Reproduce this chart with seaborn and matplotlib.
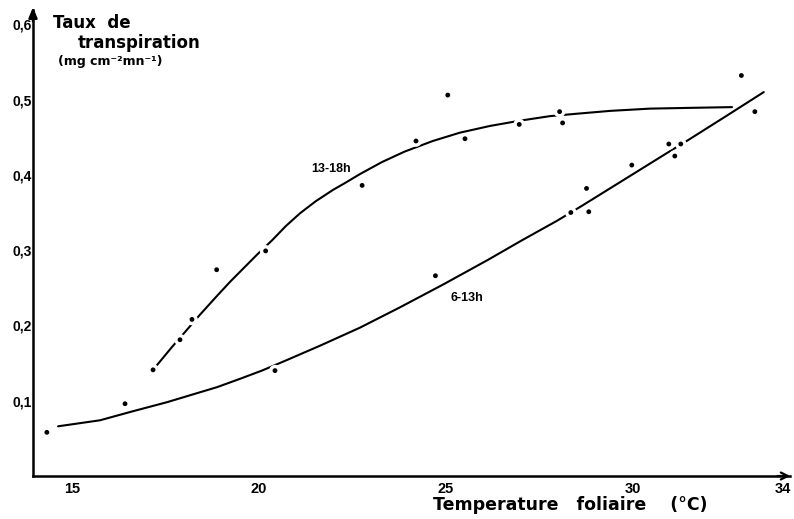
import matplotlib
matplotlib.use("Agg")
import matplotlib.pyplot as plt
import pandas as pd
import seaborn as sns
from matplotlib.ticker import FixedLocator, MultipleLocator

# Measured transpiration rates (mg cm-2 mn-1) vs leaf temperature (°C)
temp_1318 = [17.17, 17.89, 18.21, 18.87, 20.18, 22.76, 24.20, 25.05, 25.51, 26.96, 28.04, 28.12, 32.90]
rate_1318 = [0.141, 0.181, 0.208, 0.274, 0.299, 0.386, 0.445, 0.506, 0.448, 0.467, 0.484, 0.469, 0.532]
temp_613 = [14.33, 16.42, 20.43, 24.72, 28.34, 28.76, 28.82, 29.97, 30.96, 31.12, 31.28, 33.26]
rate_613 = [0.058, 0.096, 0.140, 0.266, 0.350, 0.382, 0.351, 0.413, 0.441, 0.425, 0.441, 0.484]

# Hand-drawn trend curves
curve_1318_t = [17.27, 17.67, 18.02, 18.42, 18.82, 19.23, 19.63, 19.95, 20.35, 20.72,
                21.10, 21.52, 21.98, 22.33, 22.70, 23.29, 23.90, 24.65, 25.37, 26.18,
                26.98, 27.78, 28.45, 29.39, 30.46, 31.52, 32.65]
curve_1318_r = [0.147, 0.171, 0.191, 0.214, 0.236, 0.258, 0.278, 0.294, 0.313, 0.332,
                0.349, 0.365, 0.380, 0.390, 0.401, 0.417, 0.431, 0.445, 0.456, 0.465,
                0.472, 0.478, 0.481, 0.485, 0.488, 0.489, 0.490]
curve_613_t = [14.63, 15.19, 15.75, 16.63, 17.54, 18.21, 18.88, 19.49, 20.08, 20.70,
               21.63, 22.70, 23.77, 24.95, 26.12, 27.03, 27.97, 28.64, 29.84, 31.04,
               31.47, 32.49, 33.50]
curve_613_r = [0.066, 0.070, 0.074, 0.086, 0.098, 0.108, 0.118, 0.129, 0.140, 0.153,
               0.173, 0.197, 0.224, 0.255, 0.287, 0.313, 0.339, 0.359, 0.396, 0.433,
               0.446, 0.478, 0.510]

x_ticks = [15, 20, 25, 30, 34]
x_tick_labels = ["15", "20", "25", "30", "34"]
y_ticks = [0.1, 0.2, 0.3, 0.4, 0.5, 0.6]
y_tick_labels = ["0,1", "0,2", "0,3", "0,4", "0,5", "0,6"]

points = pd.concat([
    pd.DataFrame({"temp": temp_1318, "rate": rate_1318, "period": "13-18h"}),
    pd.DataFrame({"temp": temp_613, "rate": rate_613, "period": "6-13h"}),
], ignore_index=True)

sns.set_style("white")
plt.rcParams["font.family"] = ["DejaVu Sans"]
plt.rcParams["text.color"] = "black"
plt.rcParams["axes.labelcolor"] = "black"
plt.rcParams["xtick.color"] = "black"
plt.rcParams["ytick.color"] = "black"

fig = plt.figure(figsize=(7.94, 5.19), dpi=100)
ax = fig.add_axes([33 / 794, 43 / 519, 757 / 794, 466 / 519])

line_kw = dict(color="black", linewidth=1.5, estimator=None, sort=False, ax=ax, zorder=2)
sns.lineplot(x=curve_1318_t, y=curve_1318_r, **line_kw)
sns.lineplot(x=curve_613_t, y=curve_613_r, **line_kw)

# white halo so the curves break around each measured point
sns.scatterplot(data=points, x="temp", y="rate", s=70, color="white",
                edgecolor="none", ax=ax, zorder=3, legend=False)
sns.scatterplot(data=points, x="temp", y="rate", s=12, color="black",
                edgecolor="none", ax=ax, zorder=4, legend=False)

ax.set_xlim(13.96, 34.2)
ax.set_ylim(0, 0.619)

sns.despine(ax=ax)
for side in ("left", "bottom"):
    ax.spines[side].set_linewidth(1.8)
    ax.spines[side].set_color("black")

ax.xaxis.set_major_locator(FixedLocator(x_ticks))
ax.xaxis.set_minor_locator(MultipleLocator(1))
ax.set_xticklabels(x_tick_labels)
ax.yaxis.set_major_locator(FixedLocator(y_ticks))
ax.set_yticklabels(y_tick_labels)

ax.tick_params(axis="x", which="major", direction="in", length=5, width=1.3,
               pad=4, labelsize=10.5, colors="black")
ax.tick_params(axis="x", which="minor", direction="in", length=3.5, width=1.1,
               colors="black")
ax.tick_params(axis="y", which="major", direction="in", length=4, width=1.3,
               pad=1, labelsize=10, colors="black")
for lab in ax.get_xticklabels() + ax.get_yticklabels():
    lab.set_fontfamily(["Liberation Sans", "DejaVu Sans"])
    lab.set_fontweight("bold")

# axis arrows
ax.annotate("", xy=(0, 1.012), xycoords="axes fraction", xytext=(0, 0.97),
            arrowprops=dict(arrowstyle="-|>,head_length=0.6,head_width=0.25",
                            color="black", lw=1.8), annotation_clip=False)
ax.annotate("", xy=(1.004, 0), xycoords="axes fraction", xytext=(0.98, 0),
            arrowprops=dict(arrowstyle="->,head_length=0.5,head_width=0.25",
                            color="black", lw=1.6), annotation_clip=False)

ax.set_xlabel("Temperature   foliaire    (°C)", fontsize=12.5, fontweight="bold",
              fontfamily="DejaVu Sans", color="black")
ax.xaxis.set_label_coords((433 - 33) / 757, -29 / 466)
ax.xaxis.label.set_horizontalalignment("left")
ax.xaxis.label.set_verticalalignment("center")
ax.set_ylabel("")

fig.text(53 / 794, 1 - 23 / 519, "Taux  de", fontsize=12, fontweight="bold",
         ha="left", va="center", color="black")
fig.text(78 / 794, 1 - 43 / 519, "transpiration", fontsize=12, fontweight="bold",
         ha="left", va="center", color="black")
fig.text(58 / 794, 1 - 62 / 519, "(mg cm⁻²mn⁻¹)", fontsize=9, fontweight="bold",
         ha="left", va="center", color="black")

ax.text(21.93, 0.408, "13-18h", fontsize=9, fontweight="bold", color="black",
        fontfamily=["Liberation Sans", "DejaVu Sans"], ha="center", va="center")
ax.text(25.56, 0.236, "6-13h", fontsize=9, fontweight="bold", color="black",
        fontfamily=["Liberation Sans", "DejaVu Sans"], ha="center", va="center")

fig.savefig("out.png", dpi=100, facecolor="white")
